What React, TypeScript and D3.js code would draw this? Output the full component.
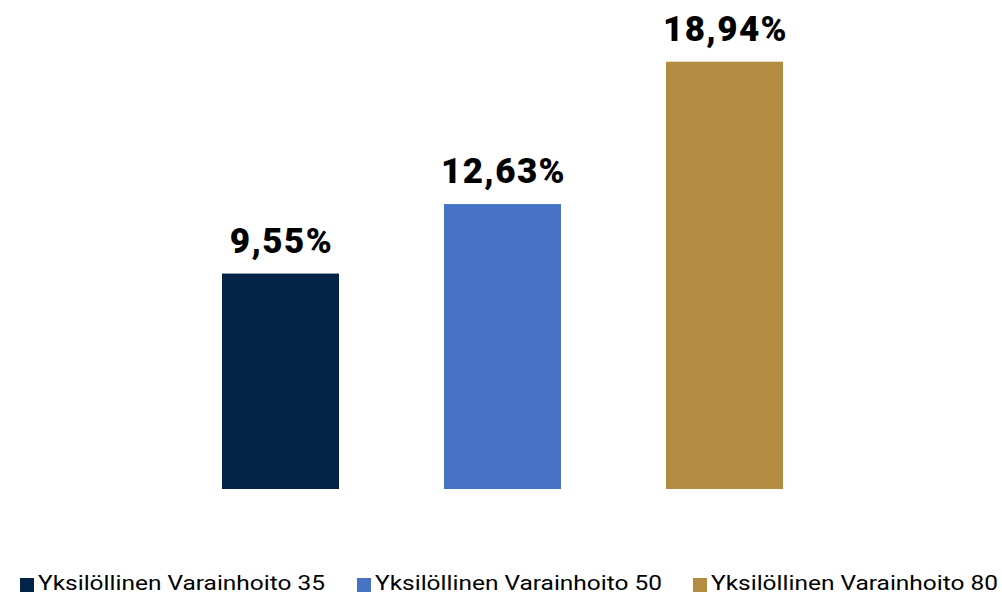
import React from "react";
import * as d3 from "d3";

const categories = ["Yksilöllinen Varainhoito 35", "Yksilöllinen Varainhoito 50", "Yksilöllinen Varainhoito 80"];
const values = [9.55, 12.63, 18.94];
const colors = ["#032447", "#4673C4", "#B38B41"];
const legendX = [20, 357, 693];

const W = 1002;
const H = 595;

export default function App() {
  const x = d3.scaleBand<string>().domain(categories).range([169.5, 835.5]).paddingInner(0.473).paddingOuter(0.2365);
  const y = d3.scaleLinear().domain([0, 20]).range([489, 489 - 451.2]);
  const fmt = (v: number) => v.toFixed(2).replace(".", ",") + "%";
  return (
    <svg width={W} height={H} style={{ position: "absolute", left: 0, top: 0, background: "#fff" }}
      fontFamily="Roboto, 'DejaVu Sans', sans-serif">
      {categories.map((c, i) => (
        <g key={c}>
          <rect x={x(c)} y={y(values[i])} width={x.bandwidth()} height={y(0) - y(values[i])} fill={colors[i]} />
          <text x={(x(c) as number) + x.bandwidth() / 2 + 1} y={y(values[i]) - 21} textAnchor="middle"
            fontSize={35} fontWeight={900} letterSpacing={1.4} fill="#000">{fmt(values[i])}</text>
        </g>
      ))}
      {categories.map((c, i) => (
        <g key={"l" + c}>
          <rect x={legendX[i]} y={578} width={14} height={14} fill={colors[i]} />
          <text x={legendX[i] + 18} y={590} fontSize={20} fill="#000" textLength={287} lengthAdjust="spacingAndGlyphs">{c}</text>
        </g>
      ))}
    </svg>
  );
}
